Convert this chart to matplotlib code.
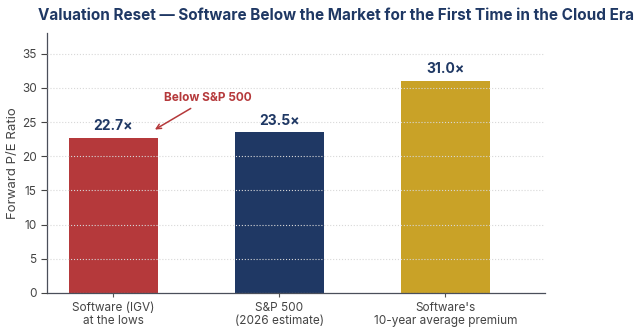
import matplotlib.pyplot as plt

plt.rcParams["font.family"] = ["Inter", "DejaVu Sans"]

categories = ["Software (IGV)\nat the lows", "S&P 500\n(2026 estimate)", "Software's\n10-year average premium"]
values = [22.7, 23.5, 31.0]
labels = ["22.7×", "23.5×", "31.0×"]
colors = ["#B5393B", "#1F3864", "#C9A227"]
navy = "#1F3864"

fig = plt.figure(figsize=(6.42, 3.34), dpi=100)
ax = fig.add_axes([0.0732, 0.1228, 0.7757, 0.778])

x = range(len(categories))
ax.bar(x, values, width=0.54, color=colors, zorder=2)
for xi, v, lab in zip(x, values, labels):
    ax.text(xi, v + 0.7, lab, ha="center", va="bottom", fontsize=10,
            fontweight="bold", color=navy)

ax.set_xlim(-0.4, 2.6)
ax.set_ylim(0, 38)
ax.set_yticks(range(0, 40, 5))
ax.set_xticks(list(x))
ax.set_xticklabels(categories, fontsize=8.5, color="#444444", linespacing=1.1)
ax.tick_params(axis="y", labelsize=8.5, colors="#444444", length=4, width=0.8)
ax.tick_params(axis="x", length=3, width=0.8, colors="#555555")
for lbl in ax.get_xticklabels():
    lbl.set_color("#444444")
for lbl in ax.get_yticklabels():
    lbl.set_color("#444444")

ax.yaxis.grid(True, linestyle=":", linewidth=0.8, color="#d8d8d8", zorder=3)
ax.set_axisbelow(False)
for s in ["top", "right"]:
    ax.spines[s].set_visible(False)
for s in ["left", "bottom"]:
    ax.spines[s].set_color("#4a4f5a")
    ax.spines[s].set_linewidth(0.9)

ax.set_ylabel("Forward P/E Ratio", fontsize=9.5, color="#444444", labelpad=2)

ax.annotate("Below S&P 500", xy=(0.25, 23.9), xytext=(0.57, 27.6),
            ha="center", va="bottom", fontsize=8.5, fontweight="bold",
            color="#B5393B",
            arrowprops=dict(arrowstyle="->", color="#B5393B", lw=1.1,
                            shrinkA=2, shrinkB=0))

fig.text(0.524, 0.955, "Valuation Reset — Software Below the Market for the First Time in the Cloud Era",
         fontsize=11, fontweight="bold", color=navy, va="center", ha="center")

fig.savefig("out.png", dpi=100)
